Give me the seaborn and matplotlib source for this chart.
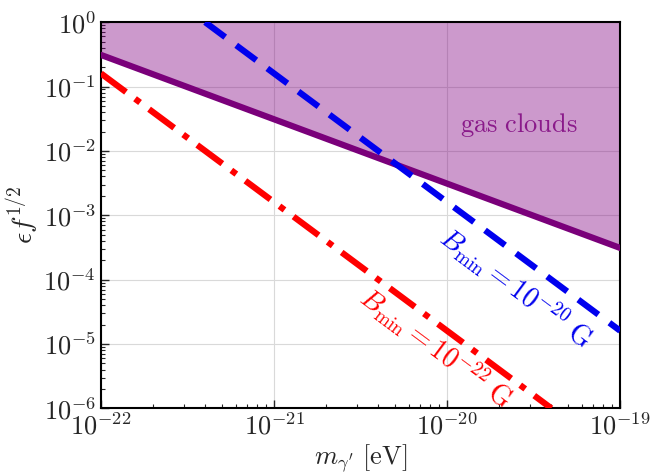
import numpy as np
import pandas as pd
import matplotlib
matplotlib.use("Agg")
import matplotlib.pyplot as plt
import matplotlib.ticker as mticker
import seaborn as sns

# data
gas_m = [1e-22, 1e-19]
gas_eps = [0.31, 3.1e-4]
blue_m = [4e-22, 1e-19]
blue_eps = [1.0, 1.6e-5]
red_m = [1e-22, 4e-20]
red_eps = [0.16, 1e-6]

sns.set_style("ticks")
plt.rcParams["mathtext.fontset"] = "cm"
plt.rcParams["font.family"] = ["DejaVu Serif"]

fig, ax = plt.subplots(figsize=(6.64, 4.72), dpi=100)
fig.subplots_adjust(left=0.152, right=0.934, top=0.953, bottom=0.135)

ax.fill_between(gas_m, gas_eps, [1.0, 1.0], color="#800080", alpha=0.4, lw=0, zorder=1)
sns.lineplot(x=gas_m, y=gas_eps, ax=ax, color="#7a007a", lw=4.5, zorder=3)
sns.lineplot(x=blue_m, y=blue_eps, ax=ax, color="#0000ee", lw=4.5, zorder=3)
ax.lines[-1].set_dashes([4, 2.2])
sns.lineplot(x=red_m, y=red_eps, ax=ax, color="#ff0000", lw=4.5, zorder=3)
ax.lines[-1].set_dashes([5, 1.8, 1, 1.8])

ax.set_xscale("log")
ax.set_yscale("log")
ax.set_xlim(1e-22, 1e-19)
ax.set_ylim(1e-6, 1)
fmt = mticker.FuncFormatter(lambda v, p: r"$10^{%d}$" % int(round(np.log10(v))))
ax.xaxis.set_major_formatter(fmt)
ax.yaxis.set_major_formatter(fmt)
ax.grid(True, which="major", color="#d9d9d9", lw=0.8, zorder=0)
ax.set_axisbelow(True)

ax.tick_params(which="both", direction="in", top=False, right=False, labelsize=19)
ax.tick_params(which="major", length=6, width=1)
ax.tick_params(which="minor", length=3, width=0.8)
for s in ax.spines.values():
    s.set_color("black")
    s.set_linewidth(1.5)

ax.set_xlabel(r"$m_{\gamma^\prime}\ [\mathrm{eV}]$", fontsize=19, labelpad=2)
ax.set_ylabel(r"$\epsilon f^{1/2}$", fontsize=20, labelpad=2)

ax.text(2.6e-20, 0.025, r"$\mathrm{gas\ clouds}$", color="#8a1a8a", fontsize=19,
        ha="center", va="center")
ax.text(2.5e-20, 7.4e-5, r"$B_{\rm min}=10^{-20}\ \mathrm{G}$", color="#0000ee",
        fontsize=20, rotation=-36.6, ha="center", va="center", rotation_mode="anchor")
ax.text(8.6e-21, 8.6e-6, r"$B_{\rm min}=10^{-22}\ \mathrm{G}$", color="#ff0000",
        fontsize=20, rotation=-36.6, ha="center", va="center", rotation_mode="anchor")

fig.savefig("out.png", dpi=100)
